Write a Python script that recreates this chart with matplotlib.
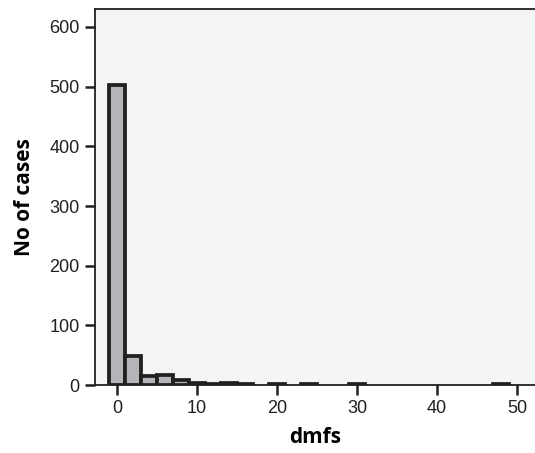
import matplotlib.pyplot as plt

# dmfs histogram: bin centres (width 2) and counts
bin_centres = [0, 2, 4, 6, 8, 10, 12, 14, 16, 20, 24, 30, 48]
case_counts = [503, 48, 15, 17, 9, 4, 2, 3, 1, 1, 1, 1, 1]
x_ticks = [0, 10, 20, 30, 40, 50]
y_ticks = [0, 100, 200, 300, 400, 500, 600]

dark = '#231f20'

fig = plt.figure(figsize=(5.35, 4.53), dpi=100)
ax = fig.add_axes([0.1776, 0.150, 0.8224, 0.830])
ax.set_facecolor('#f3f4f4')

ax.bar(bin_centres, case_counts, width=2, color='#b4b5b9',
       edgecolor=dark, linewidth=2.7, zorder=3)

ax.set_xlim(-2.75, 52.25)
ax.set_ylim(0, 630)
ax.set_xticks(x_ticks)
ax.set_yticks(y_ticks)

for side in ['left', 'bottom', 'top']:
    ax.spines[side].set_color(dark)
    ax.spines[side].set_linewidth(1.3)
ax.spines['right'].set_visible(False)
ax.spines['bottom'].set_zorder(4)

ax.tick_params(direction='out', length=7, width=1.8, color=dark,
               labelsize=13, labelcolor='#231f20', pad=4)
for lab in ax.get_xticklabels() + ax.get_yticklabels():
    lab.set_family(['Liberation Sans', 'DejaVu Sans'])

ax.set_xlabel('dmfs', fontsize=15, fontweight='bold',
              family=['Open Sans', 'DejaVu Sans'], labelpad=7)
ax.set_ylabel('No of cases', fontsize=15, fontweight='bold',
              family=['Open Sans', 'DejaVu Sans'], labelpad=10)

fig.savefig('out.png', dpi=100)
